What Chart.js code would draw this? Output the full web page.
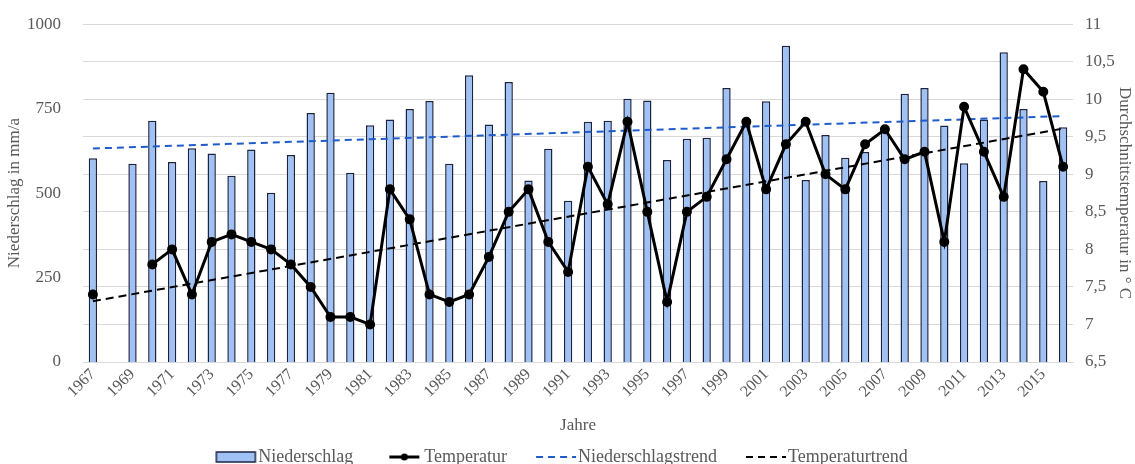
<!DOCTYPE html>
<html>
<head>
<meta charset="utf-8">
<script src="https://cdn.jsdelivr.net/npm/chart.js@4"></script>
<style>
  html, body { margin: 0; padding: 0; background: #fff; }
  #wrap { width: 1135px; height: 464px; }
</style>
</head>
<body>
<div id="wrap"><canvas id="chart-area"></canvas></div>
<script>
// Jahre 1967 - 2016
var jahre = ['1967','1968','1969','1970','1971','1972','1973','1974','1975','1976',
  '1977','1978','1979','1980','1981','1982','1983','1984','1985','1986',
  '1987','1988','1989','1990','1991','1992','1993','1994','1995','1996',
  '1997','1998','1999','2000','2001','2002','2003','2004','2005','2006',
  '2007','2008','2009','2010','2011','2012','2013','2014','2015','2016'];

// Niederschlag in mm/a (1968 fehlt)
var niederschlag = [603, null, 587, 714, 592, 633, 617, 551, 629, 501,
  613, 737, 797, 560, 701, 718, 749, 773, 587, 849,
  703, 829, 537, 631, 477, 711, 714, 779, 774, 598,
  661, 664, 811, 705, 772, 936, 539, 672, 605, 622,
  690, 794, 811, 700, 588, 718, 917, 749, 536, 695];

// Durchschnittstemperatur in °C (1968, 1969 fehlen)
var temperatur = [7.4, null, null, 7.8, 8.0, 7.4, 8.1, 8.2, 8.1, 8.0,
  7.8, 7.5, 7.1, 7.1, 7.0, 8.8, 8.4, 7.4, 7.3, 7.4,
  7.9, 8.5, 8.8, 8.1, 7.7, 9.1, 8.6, 9.7, 8.5, 7.3,
  8.5, 8.7, 9.2, 9.7, 8.8, 9.4, 9.7, 9.0, 8.8, 9.4,
  9.6, 9.2, 9.3, 8.1, 9.9, 9.3, 8.7, 10.4, 10.1, 9.1];

// Trendlinien: Anfangs- und Endwert
var trendJahre = ['1967', '2016'];
var niederschlagTrend = [632, 728];
var temperaturTrend = [7.31, 9.61];

// Achsen
var niederschlagTicks = [0, 250, 500, 750, 1000];
var temperaturMin = 6.5, temperaturMax = 11, temperaturStep = 0.5;

var grau = '#595959';
var schrift = 'Liberation Serif';

function trendPunkte(werte) {
  return trendJahre.map(function(j, i) { return { x: j, y: werte[i] }; });
}

// kleine Bilder fuer die Legende (links freier Rand als Abstand)
function legendBild(art) {
  var c = document.createElement('canvas');
  c.width = 80; c.height = 14;
  var g = c.getContext('2d');
  var x0 = 32;
  if (art === 'bar') {
    g.fillStyle = '#9fc1f3';
    g.strokeStyle = '#1c2340';
    g.lineWidth = 1.5;
    g.fillRect(x0 + 1, 2, 39, 10);
    g.strokeRect(x0 + 1, 2, 39, 10);
  } else if (art === 'temp') {
    g.strokeStyle = '#000';
    g.lineWidth = 3;
    g.beginPath(); g.moveTo(x0 + 8, 7); g.lineTo(x0 + 38, 7); g.stroke();
    g.fillStyle = '#000';
    g.beginPath(); g.arc(x0 + 23, 7, 3.5, 0, Math.PI * 2); g.fill();
  } else {
    g.strokeStyle = art === 'ntrend' ? '#1f5cc9' : '#000';
    g.lineWidth = 2;
    g.setLineDash([7, 5]);
    g.beginPath(); g.moveTo(x0 + 1, 7); g.lineTo(x0 + 41, 7); g.stroke();
  }
  return c;
}
var legendBilder = [legendBild('bar'), legendBild('temp'), legendBild('ntrend'), legendBild('ttrend')];

// Legende etwas nach links schieben (leerer Rand vor dem ersten Bild)
var legendVersatz = {
  id: 'legendVersatz',
  afterLayout: function(chart) {
    if (chart.legend) { chart.legend.left -= 17; chart.legend.right -= 17; }
  }
};

var config = {
  type: 'bar',
  data: {
    labels: jahre,
    datasets: [{
      label: 'Niederschlag',
      data: niederschlag,
      backgroundColor: '#9fc1f3',
      borderColor: '#1c2340',
      borderWidth: 1.5,
      barPercentage: 0.42,
      categoryPercentage: 1,
      yAxisID: 'y',
      order: 3
    }, {
      type: 'line',
      label: 'Temperatur',
      data: temperatur,
      borderColor: '#000',
      backgroundColor: '#000',
      borderWidth: 3,
      pointRadius: 3.5,
      pointBackgroundColor: '#000',
      spanGaps: false,
      yAxisID: 'y1',
      order: 1
    }, {
      type: 'line',
      label: 'Niederschlagstrend',
      data: trendPunkte(niederschlagTrend),
      borderColor: '#1f5cc9',
      borderWidth: 2,
      borderDash: [7, 5],
      pointRadius: 0,
      yAxisID: 'y',
      order: 2
    }, {
      type: 'line',
      label: 'Temperaturtrend',
      data: trendPunkte(temperaturTrend),
      borderColor: '#000',
      borderWidth: 2,
      borderDash: [8, 5],
      pointRadius: 0,
      yAxisID: 'y1',
      order: 2
    }]
  },
  plugins: [legendVersatz],
  options: {
    responsive: true,
    maintainAspectRatio: false,
    animation: false,
    layout: { padding: { top: 7, left: 4, right: 0, bottom: -12 } },
    plugins: {
      tooltip: { enabled: false },
      legend: {
        position: 'bottom',
        labels: {
          usePointStyle: true,
          pointStyleWidth: 52,
          boxHeight: 14,
          padding: 10,
          color: grau,
          font: { family: schrift, size: 18 },
          sort: function(a, b) { return a.datasetIndex - b.datasetIndex; },
          generateLabels: function(chart) {
            var items = Chart.defaults.plugins.legend.labels.generateLabels(chart);
            items.forEach(function(it) { it.pointStyle = legendBilder[it.datasetIndex]; it.lineDash = []; });
            return items;
          }
        }
      }
    },
    scales: {
      x: {
        grid: { display: false, drawTicks: false },
        border: { color: '#d9d9d9', width: 1 },
        ticks: {
          autoSkip: false,
          maxRotation: 45,
          minRotation: 45,
          padding: 3,
          color: grau,
          font: { family: schrift, size: 16 },
          callback: function(v, i) { return i % 2 === 0 ? jahre[i] : ''; }
        },
        title: { display: true, text: 'Jahre', color: grau, font: { family: schrift, size: 17 }, padding: { top: 2, bottom: 2 } },
        afterFit: function(s) { s.height = 76; }
      },
      y: {
        position: 'left',
        min: 0,
        max: 1000,
        grid: { display: false },
        border: { display: false },
        afterBuildTicks: function(s) { s.ticks = niederschlagTicks.map(function(v) { return { value: v }; }); },
        ticks: { color: grau, padding: 14, font: { family: schrift, size: 17 }, callback: function(v) { return String(v); } },
        title: { display: true, text: 'Niederschlag in mm/a', color: grau, font: { family: schrift, size: 17 }, padding: 0 },
        afterFit: function(s) { s.width = 79; }
      },
      y1: {
        position: 'right',
        min: temperaturMin,
        max: temperaturMax,
        grid: { color: '#d9d9d9', drawTicks: false },
        border: { display: false },
        ticks: {
          stepSize: temperaturStep,
          color: grau,
          padding: 12,
          font: { family: schrift, size: 17 },
          callback: function(v) { return String(v).replace('.', ','); }
        },
        title: { display: true, text: 'Durchschnittstemperatur in \u00b0 C', color: grau, font: { family: schrift, size: 17 }, padding: 0 },
        afterFit: function(s) { s.width = 62; }
      }
    }
  }
};

var ctx = document.getElementById('chart-area').getContext('2d');
window.myChart = new Chart(ctx, config);
</script>
</body>
</html>
